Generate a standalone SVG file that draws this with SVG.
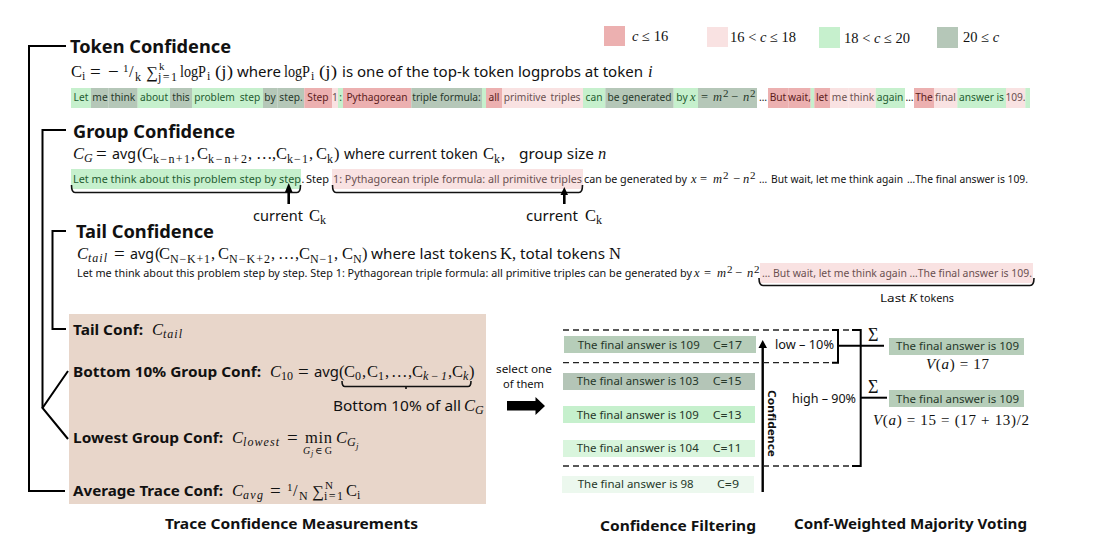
<svg xmlns="http://www.w3.org/2000/svg" width="1111" height="555" viewBox="0 0 1111 555">
<style>
text{font-family:"Noto Sans","Open Sans",sans-serif;fill:#111}
.h{font-size:18px;font-weight:700}
.b{font-size:14.5px;font-weight:700}
.cap{font-size:14.5px;font-weight:700}
.s{font-size:14.5px}
.m,.mi,.eq,.sub,.subi,.sup{font-family:"Liberation Serif","DejaVu Serif",serif}
.m{font-size:16.500px}
.eq{font-size:19px}
.mi{font-size:16.500px;font-style:italic}
.sub{font-size:12px}
.subi{font-size:12px;font-style:italic}
.sup{font-size:11px}
.leg{font-family:"Liberation Serif",serif;font-size:14.500px}
.t{font-size:10.400px}
.tk{font-size:10.200px;text-anchor:middle}
.tm{font-family:"Liberation Serif",serif;font-size:12.500px;font-style:italic}
.tn{font-family:"Liberation Serif",serif;font-size:12.500px}
.r{font-size:10.600px}
.g{fill:#1f5c30}.y{fill:#26382a}.e{fill:#5c1c1c}.p{fill:#6a5050}
.fr{fill:#ecb0b0}.fp{fill:#f9e2e2}.fg{fill:#c6f0cd}.fy{fill:#b5c7b8}
.l{fill:none;stroke:#000;stroke-width:2}
.br{fill:none;stroke:#111;stroke-width:1.600}
.d{fill:none;stroke:#222;stroke-width:1.300;stroke-dasharray:6 4}
</style>

<g id="legend">
<rect class="fr" x="604" y="26" width="21" height="20"/><text class="leg" x="632" y="41"><tspan font-style="italic">c</tspan> ≤ 16</text>
<rect class="fp" x="707" y="27" width="21" height="20"/><text class="leg" x="730" y="42">16 &lt; <tspan font-style="italic">c</tspan> ≤ 18</text>
<rect class="fg" x="819" y="27" width="21" height="21"/><text class="leg" x="844" y="43">18 &lt; <tspan font-style="italic">c</tspan> ≤ 20</text>
<rect class="fy" x="937" y="27" width="21" height="21"/><text class="leg" x="963" y="42">20 ≤ <tspan font-style="italic">c</tspan></text>
</g>

<g id="token-confidence">
<text class="h" x="70" y="53" textLength="161" lengthAdjust="spacingAndGlyphs">Token Confidence</text>
<text class="m" x="71" y="77">C</text><text class="sub" x="82" y="80">i</text>
<text class="eq" x="90" y="78">=</text><text class="eq" x="108" y="78">−</text>
<text class="sup" x="123" y="72">1</text><text class="m" x="129" y="77">/</text><text class="sub" x="135" y="81">k</text>
<text class="m" x="146" y="78">∑</text><text class="sup" x="159" y="70">k</text><text class="sub" x="158" y="81" textLength="19">j=1</text>
<text class="m" x="180" y="77" textLength="26" lengthAdjust="spacingAndGlyphs">logP</text><text class="sub" x="207" y="80">i</text><text class="m" x="215" y="77" textLength="18" lengthAdjust="spacingAndGlyphs">(j)</text>
<text class="s" x="237" y="77" textLength="44" lengthAdjust="spacingAndGlyphs">where</text>
<text class="m" x="284" y="77" textLength="26" lengthAdjust="spacingAndGlyphs">logP</text><text class="sub" x="311" y="80">i</text><text class="m" x="319" y="77" textLength="18" lengthAdjust="spacingAndGlyphs">(j)</text>
<text class="s" x="342" y="77" textLength="301" lengthAdjust="spacingAndGlyphs">is one of the top-k token logprobs at token</text>
<text class="mi" x="648" y="77">i</text>
</g>

<g id="token-spans">
<rect class="fg" x="71" y="88" width="20" height="20"/><text class="tk g" x="81" y="101">Let</text>
<rect class="fy" x="91" y="88" width="17.700" height="20"/><text class="tk y" x="100" y="101">me</text>
<rect class="fy" x="108.700" y="88" width="29" height="20"/><text class="tk y" x="123" y="101">think</text>
<rect class="fg" x="137.700" y="88" width="32.300" height="20"/><text class="tk g" x="154" y="101">about</text>
<rect class="fy" x="170" y="88" width="22" height="20"/><text class="tk y" x="181" y="101">this</text>
<rect class="fg" x="192" y="88" width="45" height="20"/><text class="tk g" x="214.500" y="101">problem</text>
<rect class="fg" x="237" y="88" width="26" height="20"/><text class="tk g" x="250" y="101">step</text>
<rect class="fy" x="263" y="88" width="14.700" height="20"/><text class="tk y" x="270" y="101">by</text>
<rect class="fy" x="277.700" y="88" width="26.600" height="20"/><text class="tk y" x="291" y="101">step.</text>
<rect class="fr" x="304.300" y="88" width="27.700" height="20"/><text class="tk e" x="318" y="101">Step</text>
<rect class="fp" x="332" y="88" width="6" height="20"/><text class="tk p" x="335" y="101">1</text>
<rect class="fg" x="338" y="88" width="5" height="20"/><text class="tk g" x="340.500" y="101">:</text>
<rect class="fr" x="343" y="88" width="68.300" height="20"/><text class="tk e" x="377" y="101">Pythagorean</text>
<rect class="fy" x="411.300" y="88" width="70.700" height="20"/><text class="tk y" x="446.500" y="101">triple formula:</text>
<rect class="fg" x="482" y="88" width="4" height="20"/>
<rect class="fr" x="486" y="88" width="16" height="20"/><text class="tk e" x="494" y="101">all</text>
<rect class="fp" x="502" y="88" width="46" height="20"/><text class="tk p" x="525" y="101">primitive</text>
<rect class="fp" x="548" y="88" width="35" height="20"/><text class="tk p" x="565.500" y="101">triples</text>
<rect class="fg" x="583" y="88" width="22.300" height="20"/><text class="tk g" x="594" y="101">can</text>
<rect class="fy" x="605.300" y="88" width="68.400" height="20"/><text class="tk y" x="639.500" y="101">be generated</text>
<rect class="fg" x="673.700" y="88" width="24.300" height="20"/><text class="tk g" x="682" y="101">by</text><text class="tm g" x="690" y="101">x</text>
<rect class="fy" x="698" y="88" width="59" height="20"/><text class="tn y" x="701" y="101">=</text><text class="tm y" x="713" y="101">m</text><text class="sup y" x="723" y="97">2</text><text class="tn y" x="731" y="101">−</text><text class="tm y" x="743" y="101">n</text><text class="sup y" x="750" y="97">2</text>
<text class="tk" x="763" y="101">…</text>
<rect class="fr" x="768" y="88" width="20.300" height="20"/><text class="tk e" x="778" y="101">But</text>
<rect class="fr" x="788.300" y="88" width="22.400" height="20"/><text class="tk e" x="799.500" y="101">wait,</text>
<rect class="fg" x="810.700" y="88" width="3.600" height="20"/>
<rect class="fr" x="814.300" y="88" width="15.700" height="20"/><text class="tk e" x="822" y="101">let</text>
<rect class="fp" x="830" y="88" width="18.700" height="20"/><text class="tk p" x="839.500" y="101">me</text>
<rect class="fp" x="848.700" y="88" width="27" height="20"/><text class="tk p" x="862" y="101">think</text>
<rect class="fg" x="875.700" y="88" width="29.300" height="20"/><text class="tk g" x="890" y="101">again</text>
<text class="tk" x="909.500" y="101">…</text>
<rect class="fr" x="914" y="88" width="20" height="20"/><text class="tk e" x="924" y="101">The</text>
<rect class="fp" x="934" y="88" width="23.300" height="20"/><text class="tk p" x="945.500" y="101">final</text>
<rect class="fg" x="957.300" y="88" width="48.700" height="20"/><text class="tk g" x="981.500" y="101">answer is</text>
<rect class="fp" x="1006" y="88" width="19.300" height="20"/><text class="tk p" x="1015.500" y="101">109.</text>
<rect class="fg" x="1025.300" y="88" width="4.700" height="20"/>
</g>

<g id="group-confidence">
<text class="h" x="73" y="138" textLength="162" lengthAdjust="spacingAndGlyphs">Group Confidence</text>
<text class="mi" x="73" y="159">C</text><text class="subi" x="84" y="162">G</text>
<text class="eq" x="96" y="160">=</text><text class="s" x="112" y="159" textLength="24" lengthAdjust="spacingAndGlyphs">avg</text><text class="m" x="137" y="159">(</text>
<text class="m" x="142" y="159">C</text><text class="sub" x="153" y="163" textLength="37">k−n+1</text><text class="m" x="191" y="159">,</text>
<text class="m" x="197" y="159">C</text><text class="sub" x="208" y="163" textLength="39">k−n+2</text><text class="m" x="248" y="159">,</text>
<text class="m" x="256" y="159">…</text><text class="m" x="272" y="159">,</text>
<text class="m" x="276" y="159">C</text><text class="sub" x="287" y="163" textLength="21">k−1</text><text class="m" x="309" y="159">,</text>
<text class="m" x="316" y="159">C</text><text class="sub" x="327" y="163">k</text><text class="m" x="334" y="159">)</text>
<text class="s" x="344" y="159" textLength="134" lengthAdjust="spacingAndGlyphs">where current token</text>
<text class="m" x="483" y="159">C</text><text class="sub" x="494" y="163">k</text><text class="m" x="501" y="159">,</text>
<text class="s" x="519" y="159" textLength="75" lengthAdjust="spacingAndGlyphs">group size</text><text class="mi" x="598" y="159">n</text>
<rect class="fg" x="71" y="169" width="230" height="20"/>
<rect class="fp" x="332" y="169" width="251" height="20"/>
<text class="t g" x="73" y="183" textLength="228" lengthAdjust="spacingAndGlyphs">Let me think about this problem step by step</text>
<text class="t" x="301.500" y="183">.</text>
<text class="t" x="306" y="183" textLength="23" lengthAdjust="spacingAndGlyphs">Step</text>
<text class="t p" x="333" y="183" textLength="249" lengthAdjust="spacingAndGlyphs">1: Pythagorean triple formula: all primitive triples</text>
<text class="t" x="584" y="183" textLength="103" lengthAdjust="spacingAndGlyphs">can be generated by</text>
<text class="tm" x="691" y="183">x</text><text class="tn" x="700" y="183">=</text><text class="tm" x="713" y="183">m</text><text class="sup" x="723" y="179">2</text><text class="tn" x="733" y="183">−</text><text class="tm" x="743" y="183">n</text><text class="sup" x="750" y="179">2</text>
<text class="t" x="759" y="183">…</text>
<text class="t" x="771" y="183" textLength="132" lengthAdjust="spacingAndGlyphs">But wait, let me think again</text>
<text class="t" x="907" y="183" textLength="121" lengthAdjust="spacingAndGlyphs">…The final answer is 109.</text>
<text class="s" x="253" y="221" textLength="50" lengthAdjust="spacingAndGlyphs">current</text><text class="m" x="309" y="221">C</text><text class="sub" x="320" y="224">k</text>
<text class="s" x="526" y="221" textLength="52" lengthAdjust="spacingAndGlyphs">current</text><text class="m" x="585" y="221">C</text><text class="sub" x="596" y="224">k</text>
</g>

<g id="tail-confidence">
<text class="h" x="76" y="238" textLength="138" lengthAdjust="spacingAndGlyphs">Tail Confidence</text>
<text class="mi" x="77" y="259">C</text><text class="subi" x="88" y="262" textLength="19">tail</text>
<text class="eq" x="114" y="260">=</text><text class="s" x="130" y="259" textLength="24" lengthAdjust="spacingAndGlyphs">avg</text><text class="m" x="155" y="259">(</text>
<text class="m" x="159" y="259">C</text><text class="sub" x="170" y="263" textLength="40">N−K+1</text><text class="m" x="211" y="259">,</text>
<text class="m" x="218" y="259">C</text><text class="sub" x="229" y="263" textLength="41">N−K+2</text><text class="m" x="271" y="259">,</text>
<text class="m" x="278" y="259">…</text><text class="m" x="295" y="259">,</text>
<text class="m" x="299" y="259">C</text><text class="sub" x="310" y="263" textLength="23">N−1</text><text class="m" x="334" y="259">,</text>
<text class="m" x="342" y="259">C</text><text class="sub" x="353" y="263">N</text><text class="m" x="362" y="259">)</text>
<text class="s" x="371" y="259" textLength="126" lengthAdjust="spacingAndGlyphs">where last tokens</text>
<text class="m" x="500" y="259">K,</text>
<text class="s" x="520" y="259" textLength="85" lengthAdjust="spacingAndGlyphs">total tokens</text><text class="m" x="609" y="259">N</text>
<rect class="fp" x="760" y="263" width="273" height="20"/>
<text class="t" x="77" y="277" textLength="615" lengthAdjust="spacingAndGlyphs">Let me think about this problem step by step. Step 1: Pythagorean triple formula: all primitive triples can be generated by</text>
<text class="tm" x="694" y="277">x</text><text class="tn" x="704" y="277">=</text><text class="tm" x="717" y="277">m</text><text class="sup" x="727" y="273">2</text><text class="tn" x="735" y="277">−</text><text class="tm" x="747" y="277">n</text><text class="sup" x="754" y="273">2</text>
<text class="t p" x="762" y="277" textLength="270" lengthAdjust="spacingAndGlyphs">… But wait, let me think again …The final answer is 109.</text>
<text class="t" x="880" y="302" textLength="26" lengthAdjust="spacingAndGlyphs">Last</text><text class="tm" x="909" y="302">K</text><text class="t" x="920" y="302" textLength="34" lengthAdjust="spacingAndGlyphs">tokens</text>
</g>

<g id="trace-measurements">
<rect x="69" y="314" width="417" height="190" style="fill:#e8d6ca"/>
<text class="b" x="73" y="335" textLength="70" lengthAdjust="spacingAndGlyphs">Tail Conf:</text>
<text class="mi" x="152" y="335">C</text><text class="subi" x="163" y="338" textLength="19">tail</text>

<text class="b" x="73" y="377" textLength="188" lengthAdjust="spacingAndGlyphs">Bottom 10% Group Conf:</text>
<text class="mi" x="270" y="377">C</text><text class="sub" x="281" y="380">10</text>
<text class="eq" x="298" y="378">=</text><text class="s" x="314" y="377" textLength="25" lengthAdjust="spacingAndGlyphs">avg</text><text class="m" x="339" y="377">(</text>
<text class="m" x="344" y="377">C</text><text class="sub" x="355" y="380">0</text><text class="m" x="362" y="377">,</text>
<text class="m" x="367" y="377">C</text><text class="sub" x="378" y="380">1</text><text class="m" x="385" y="377">,</text>
<text class="m" x="391" y="377">…</text><text class="m" x="408" y="377">,</text>
<text class="m" x="412" y="377">C</text><text class="subi" x="423" y="380" textLength="24">k−1</text><text class="m" x="448" y="377">,</text>
<text class="m" x="452" y="377">C</text><text class="subi" x="463" y="380">k</text><text class="m" x="469" y="377">)</text>
<text class="s" x="333" y="411" textLength="128" lengthAdjust="spacingAndGlyphs">Bottom 10% of all</text>
<text class="mi" x="464" y="411">C</text><text class="subi" x="475" y="414">G</text>

<text class="b" x="73" y="443" textLength="150" lengthAdjust="spacingAndGlyphs">Lowest Group Conf:</text>
<text class="mi" x="232" y="443">C</text><text class="subi" x="243" y="446" textLength="36">lowest</text>
<text class="eq" x="287" y="444">=</text><text class="m" x="305" y="443" textLength="27">min</text>
<text class="subi" x="303" y="454" style="font-size:10px">G</text><text class="subi" x="311" y="456" style="font-size:8px">j</text><text class="sub" x="315" y="454" style="font-size:10px" textLength="17">∈G</text>
<text class="mi" x="336" y="443">C</text><text class="subi" x="347" y="446">G</text><text class="subi" x="356" y="449" style="font-size:9px">j</text>

<text class="b" x="73" y="496" textLength="150" lengthAdjust="spacingAndGlyphs">Average Trace Conf:</text>
<text class="mi" x="232" y="496">C</text><text class="subi" x="243" y="499" textLength="20">avg</text>
<text class="eq" x="270" y="497">=</text>
<text class="sup" x="287" y="491">1</text><text class="m" x="293" y="496">/</text><text class="sub" x="299" y="500">N</text>
<text class="m" x="312" y="497">∑</text><text class="sup" x="325" y="489">N</text><text class="sub" x="324" y="500" textLength="19">i=1</text>
<text class="m" x="346" y="496">C</text><text class="sub" x="357" y="499">i</text>
</g>

<g id="connectors">
<path class="l" d="M66 46H29V491H65"/>
<path class="l" d="M66 130H42.500V408"/>
<path class="l" d="M68 371L42.500 408L68 439"/>
<path class="l" d="M66 231H52.500V329H66"/>
<path class="br" d="M71.500 185Q71.500 192.500 75 192.500H297Q300.500 192.500 300.500 185"/>
<path class="br" d="M332.500 185Q332.500 192.500 336 192.500H579Q582.500 192.500 582.500 185"/>
<path class="br" d="M759 278Q759 285.500 763 285.500H1030Q1034 285.500 1034 278"/>
<path class="br" d="M342 381Q342 386.500 345 386.500H468Q471 386.500 471 381M406 386.500V389"/>
<path d="M288.700 204V192" stroke="#000" stroke-width="2.600"/><path d="M288.700 183L292.500 192H285Z"/>
<path d="M564.300 204V195" stroke="#000" stroke-width="2.600"/><path d="M564.300 187L568 195H560.500Z"/>
<path d="M507 401H535.500V397L545 406L535.500 415V410.500H507Z"/>
<path d="M762.700 492V347" stroke="#000" stroke-width="2.400"/><path d="M762.700 340L767 348H758.500Z"/>
<path class="d" d="M563 330H852"/><path class="d" d="M563 362.700H832"/><path class="d" d="M563 466H852"/>
<path class="l" d="M832 330H838V362.700H832"/>
<path class="l" d="M852 330H860.700V466H852"/>
<path class="l" d="M838 345.700H884"/>
<path class="l" d="M860.700 397.700H887"/>
</g>

<g id="confidence-filtering">
<text class="t" x="496" y="373" textLength="56" lengthAdjust="spacingAndGlyphs">select one</text>
<text class="t" x="503" y="388" textLength="41" lengthAdjust="spacingAndGlyphs">of them</text>
<g id="row-17"><rect x="564" y="336" width="192" height="17" style="fill:#b6cdb9"/><text class="r y" x="577.700" y="349" textLength="122" lengthAdjust="spacingAndGlyphs">The final answer is 109</text><text class="r y" x="713" y="349" textLength="29" lengthAdjust="spacingAndGlyphs">C=17</text></g>
<g id="row-15"><rect x="563" y="373" width="192" height="17" style="fill:#b4c5b7"/><text class="r y" x="576.700" y="385" textLength="122" lengthAdjust="spacingAndGlyphs">The final answer is 103</text><text class="r y" x="712.700" y="385" textLength="29" lengthAdjust="spacingAndGlyphs">C=15</text></g>
<g id="row-13"><rect x="563" y="406" width="192" height="17" style="fill:#c6f0cd"/><text class="r y" x="576.700" y="419" textLength="122" lengthAdjust="spacingAndGlyphs">The final answer is 109</text><text class="r y" x="712.700" y="419" textLength="29" lengthAdjust="spacingAndGlyphs">C=13</text></g>
<g id="row-11"><rect x="563" y="440" width="192" height="17" style="fill:#d9f5dd"/><text class="r y" x="576.700" y="452" textLength="122" lengthAdjust="spacingAndGlyphs">The final answer is 104</text><text class="r y" x="712.700" y="452" textLength="29" lengthAdjust="spacingAndGlyphs">C=11</text></g>
<g id="row-9"><rect x="562" y="476" width="192" height="17" style="fill:#ecf8ee"/><text class="r y" x="577.700" y="488" textLength="116" lengthAdjust="spacingAndGlyphs">The final answer is 98</text><text class="r y" x="717" y="488" textLength="22" lengthAdjust="spacingAndGlyphs">C=9</text></g>
<text x="768" y="390" transform="rotate(90 768 390)" style="font-size:10.500px;font-weight:700" textLength="67" lengthAdjust="spacingAndGlyphs">Confidence</text>
<text class="s" x="775" y="349" style="font-size:12.500px" textLength="59" lengthAdjust="spacingAndGlyphs">low – 10%</text>
<text class="s" x="792" y="403" style="font-size:12.500px" textLength="64" lengthAdjust="spacingAndGlyphs">high – 90%</text>
</g>

<g id="majority-voting">
<text class="m" x="868" y="341" style="font-size:18px">Σ</text>
<text class="m" x="868" y="393" style="font-size:18px">Σ</text>
<rect x="889" y="338" width="135" height="17" style="fill:#b6cdb9"/><text class="r y" x="896" y="350" textLength="123" lengthAdjust="spacingAndGlyphs">The final answer is 109</text>
<rect x="889" y="390" width="135" height="17" style="fill:#b6cdb9"/><text class="r y" x="896" y="403" textLength="123" lengthAdjust="spacingAndGlyphs">The final answer is 109</text>
<text class="m" x="926" y="369" style="font-size:15px" textLength="63"><tspan font-style="italic">V</tspan>(<tspan font-style="italic">a</tspan>) = 17</text>
<text class="m" x="873" y="425" style="font-size:15px" textLength="156"><tspan font-style="italic">V</tspan>(<tspan font-style="italic">a</tspan>) = 15 = (17 + 13)/2</text>
</g>

<g id="captions">
<text class="cap" x="165" y="529" textLength="253" lengthAdjust="spacingAndGlyphs">Trace Confidence Measurements</text>
<text class="cap" x="600" y="531" textLength="156" lengthAdjust="spacingAndGlyphs">Confidence Filtering</text>
<text class="cap" x="794" y="529" textLength="233" lengthAdjust="spacingAndGlyphs">Conf-Weighted Majority Voting</text>
</g>
</svg>
